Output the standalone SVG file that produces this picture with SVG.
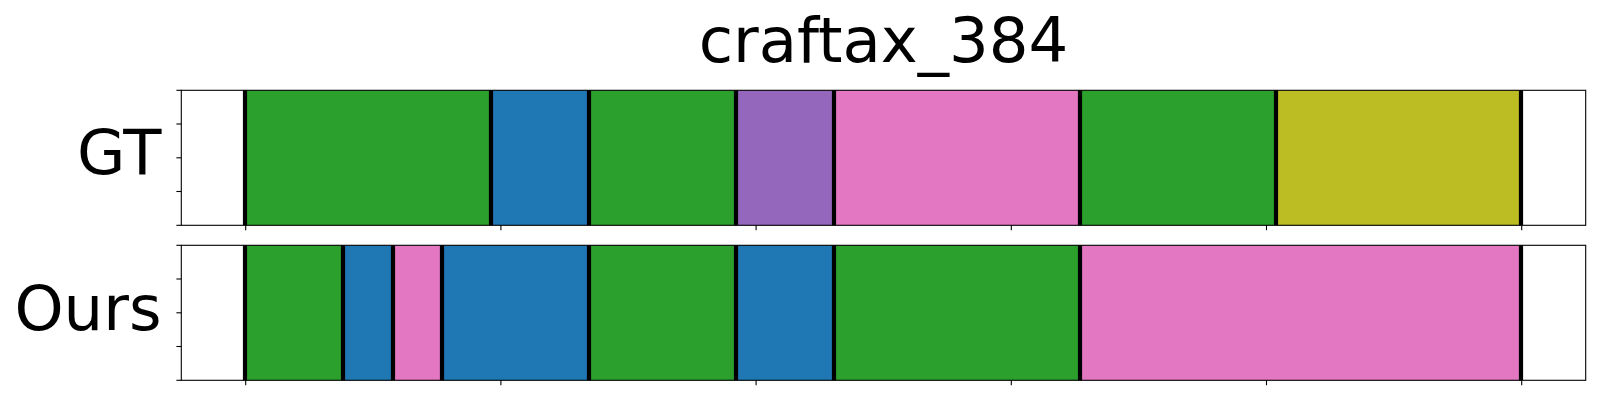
<svg xmlns="http://www.w3.org/2000/svg" width="1600" height="400" viewBox="0 0 1600 400">
<style>
.lbl{font-family:"DejaVu Sans",sans-serif;font-size:62.5px;fill:#000}
.spine{fill:none;stroke:#000;stroke-width:1.1}
.tick{stroke:#000;stroke-width:1.1}
.bnd{stroke:#000;stroke-width:4.2}
.g{fill:#2ca02c}.b{fill:#1f77b4}.p{fill:#e377c2}.v{fill:#9467bd}.o{fill:#bcbd22}
</style>
<rect width="1600" height="400" fill="#fff"/>
<text class="lbl" x="883.5" y="61.7" text-anchor="middle">craftax_384</text>
<text class="lbl" x="161.5" y="174.3" text-anchor="end">GT</text>
<text class="lbl" x="161.5" y="330" text-anchor="end">Ours</text>

<g id="gt">
<rect class="g" x="245" y="90.3" width="246" height="135"/>
<rect class="b" x="491" y="90.3" width="98" height="135"/>
<rect class="g" x="589" y="90.3" width="147" height="135"/>
<rect class="v" x="736" y="90.3" width="98" height="135"/>
<rect class="p" x="834" y="90.3" width="246" height="135"/>
<rect class="g" x="1080" y="90.3" width="196" height="135"/>
<rect class="o" x="1276" y="90.3" width="245" height="135"/>
<g class="bnd">
<line x1="245" y1="90.3" x2="245" y2="225.3"/>
<line x1="491" y1="90.3" x2="491" y2="225.3"/>
<line x1="589" y1="90.3" x2="589" y2="225.3"/>
<line x1="736" y1="90.3" x2="736" y2="225.3"/>
<line x1="834" y1="90.3" x2="834" y2="225.3"/>
<line x1="1080" y1="90.3" x2="1080" y2="225.3"/>
<line x1="1276" y1="90.3" x2="1276" y2="225.3"/>
<line x1="1521" y1="90.3" x2="1521" y2="225.3"/>
</g>
<rect class="spine" x="181.3" y="90.3" width="1404.4" height="135"/>
<g class="tick">
<line x1="176.4" y1="90.3" x2="181.3" y2="90.3"/>
<line x1="176.4" y1="124" x2="181.3" y2="124"/>
<line x1="176.4" y1="157.8" x2="181.3" y2="157.8"/>
<line x1="176.4" y1="191.5" x2="181.3" y2="191.5"/>
<line x1="176.4" y1="225.3" x2="181.3" y2="225.3"/>
<line x1="245.7" y1="225.3" x2="245.7" y2="230.2"/>
<line x1="500.9" y1="225.3" x2="500.9" y2="230.2"/>
<line x1="756.1" y1="225.3" x2="756.1" y2="230.2"/>
<line x1="1011.3" y1="225.3" x2="1011.3" y2="230.2"/>
<line x1="1266.5" y1="225.3" x2="1266.5" y2="230.2"/>
<line x1="1521.7" y1="225.3" x2="1521.7" y2="230.2"/>
</g>
</g>

<g id="ours">
<rect class="g" x="245" y="245.3" width="98" height="135"/>
<rect class="b" x="343" y="245.3" width="50" height="135"/>
<rect class="p" x="393" y="245.3" width="49" height="135"/>
<rect class="b" x="442" y="245.3" width="147" height="135"/>
<rect class="g" x="589" y="245.3" width="147" height="135"/>
<rect class="b" x="736" y="245.3" width="98" height="135"/>
<rect class="g" x="834" y="245.3" width="246" height="135"/>
<rect class="p" x="1080" y="245.3" width="441" height="135"/>
<g class="bnd">
<line x1="245" y1="245.3" x2="245" y2="380.3"/>
<line x1="343" y1="245.3" x2="343" y2="380.3"/>
<line x1="393" y1="245.3" x2="393" y2="380.3"/>
<line x1="442" y1="245.3" x2="442" y2="380.3"/>
<line x1="589" y1="245.3" x2="589" y2="380.3"/>
<line x1="736" y1="245.3" x2="736" y2="380.3"/>
<line x1="834" y1="245.3" x2="834" y2="380.3"/>
<line x1="1080" y1="245.3" x2="1080" y2="380.3"/>
<line x1="1521" y1="245.3" x2="1521" y2="380.3"/>
</g>
<rect class="spine" x="181.3" y="245.3" width="1404.4" height="135"/>
<g class="tick">
<line x1="176.4" y1="245.3" x2="181.3" y2="245.3"/>
<line x1="176.4" y1="279" x2="181.3" y2="279"/>
<line x1="176.4" y1="312.8" x2="181.3" y2="312.8"/>
<line x1="176.4" y1="346.5" x2="181.3" y2="346.5"/>
<line x1="176.4" y1="380.3" x2="181.3" y2="380.3"/>
<line x1="245.7" y1="380.3" x2="245.7" y2="385.2"/>
<line x1="500.9" y1="380.3" x2="500.9" y2="385.2"/>
<line x1="756.1" y1="380.3" x2="756.1" y2="385.2"/>
<line x1="1011.3" y1="380.3" x2="1011.3" y2="385.2"/>
<line x1="1266.5" y1="380.3" x2="1266.5" y2="385.2"/>
<line x1="1521.7" y1="380.3" x2="1521.7" y2="385.2"/>
</g>
</g>
</svg>
